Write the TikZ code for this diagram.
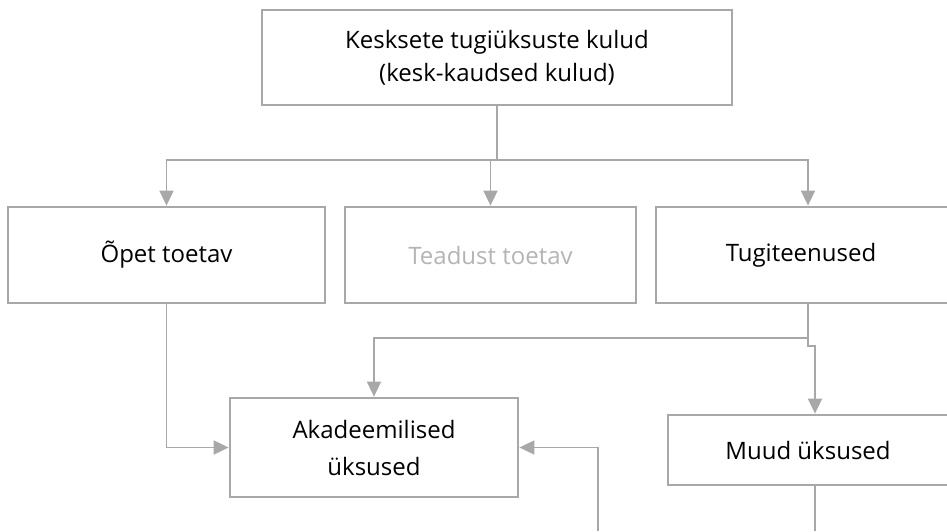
\documentclass[tikz,border=0pt]{standalone}
\usepackage{fontspec}
\setmainfont{Open Sans}
\usetikzlibrary{arrows.meta}
\definecolor{linegray}{HTML}{A8A8A8}
\definecolor{textgray}{HTML}{B4B4B4}
\tikzset{>={Triangle[length=15pt,width=14pt]}}

\begin{document}
\begin{tikzpicture}[x=1pt,y=-1pt]
	\tikzstyle{box} = [rectangle, draw=linegray, line width=2.8pt, align=center, inner sep=0pt, font=\fontsize{24}{33}\selectfont]
	\tikzstyle{conn} = [->, draw=linegray, line width=1.8pt]
	\clip (0,0) rectangle (947,531);

%----------Ülemine tase------------------------------
	\node[box, minimum width=470pt, minimum height=95pt] (top) at (497,57.5) {Kesksete tugiüksuste kulud\\(kesk-kaudsed kulud)};
	\coordinate (split) at (497,160);

%----------Keskmine tase------------------------------
	\node[box, minimum width=317pt, minimum height=96pt] (opet) at (166.5,255) {Õpet toetav};
	\node[box, minimum width=291pt, minimum height=96pt, text=textgray] (teadus) at (490.5,255) {Teadust toetav};
	\node[box, minimum width=304pt, minimum height=96pt] (tugi) at (808,255) {\hspace*{-14pt}Tugiteenused};

	\draw[draw=linegray, line width=1.8pt] (top.south) -- (split);
	\draw[conn] (split) -| (opet.north);
	\draw[conn] (split) -| (teadus.north);
	\draw[conn] (split) -| (tugi.north);

%----------Alumine tase------------------------------
	\node[box, minimum width=288pt, minimum height=99pt, font=\fontsize{24}{37}\selectfont] (akad) at (374,447.5) {Akadeemilised\\üksused};
	\node[box, minimum width=294pt, minimum height=70pt] (muud) at (815,450) {\hspace*{-14pt}Muud üksused};

	\coordinate (tsplit) at (808,338);
	\coordinate (tjog) at (808,346);
	\coordinate (inA) at (598,531);
	\coordinate (outM) at (815,531);

	\draw[draw=linegray, line width=1.8pt] (tugi.south) -- (tsplit);
	\draw[conn] (tsplit) -| (akad.north);
	\draw[conn] (tsplit) -- (tjog) -| (muud.north);

	\draw[conn] (opet.south) |- (akad.west);
	\draw[conn] (inA) |- (akad.east);
	\draw[draw=linegray, line width=1.8pt] (muud.south) -- (outM);
\end{tikzpicture}
\end{document}
